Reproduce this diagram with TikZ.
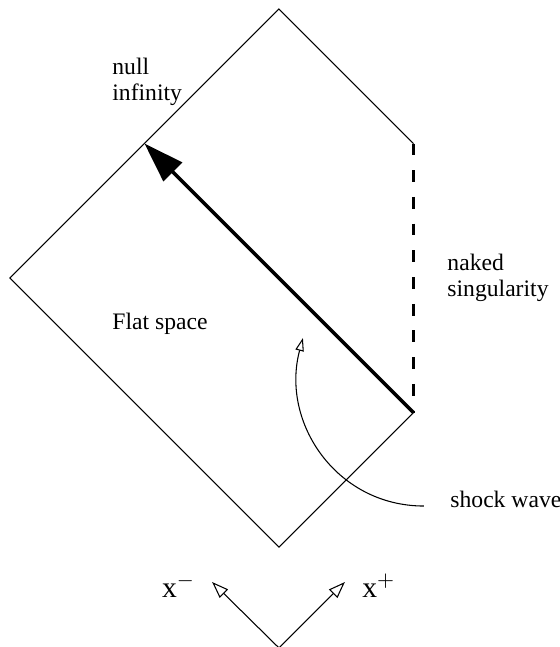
\documentclass[tikz,border=0pt]{standalone}
\usepackage{fontspec}
\setmainfont{Liberation Serif}
\usetikzlibrary{arrows.meta}

\begin{document}
\begin{tikzpicture}[x=2cm, y=2cm,
edge/.style={line width=0.45pt},
front/.style={-{Triangle[length=17pt, width=11pt]}, line width=1.5pt},
sing/.style={line width=1.3pt, dash pattern=on 5pt off 6.3pt},
hollow/.style={-{Triangle[open, length=7pt, width=5pt]}, line width=0.45pt},
pointer/.style={-{Triangle[open, length=5.5pt, width=3.6pt]}, line width=0.45pt},
lbl/.style={font=\fontsize{10}{11}\selectfont, align=left, inner sep=0pt},
axlbl/.style={font=\fontsize{12.5}{15}\selectfont, inner sep=0pt}
]
\useasboundingbox (-2.074,-0.743) rectangle (2.082,4.067);
% corners of the diagram
\coordinate (bot) at (0,0);
\coordinate (lr) at (1,1);
\coordinate (ur) at (1,3);
\coordinate (top) at (0,4);
\coordinate (lft) at (-2,2);
\coordinate (tip) at (-1,3);
\draw[edge] (ur) -- (top) -- (lft) -- (bot) -- (lr);
\draw[sing] (ur) -- (lr);
\draw[front] (lr) -- (tip);
% labels
\node[lbl, anchor=base west] (scri) at (-1.242,3.323) {null\\infinity};
\node[lbl, anchor=base west] (naked) at (1.249,1.859) {naked\\singularity};
\node[lbl, anchor=base west] (flat) at (-1.242,1.621) {Flat space};
\node[lbl, anchor=base west] (shock) at (1.271,0.297) {shock wave};
% shock wave pointer
\coordinate (swend) at (1.078,0.305);
\coordinate (swtip) at (0.178,1.554);
\draw[pointer] (swend) to[out=180, in=-105, looseness=1.08] (swtip);
% light cone directions
\coordinate (ax0) at (0,-0.75);
\coordinate (axm) at (-0.497,-0.26);
\coordinate (axp) at (0.49,-0.26);
\draw[hollow] (ax0) -- (axm);
\draw[hollow] (ax0) -- (axp);
\node[axlbl, anchor=base] (xm) at (-0.747,-0.372) {x$^{-}$};
\node[axlbl, anchor=base] (xp) at (0.743,-0.372) {x$^{+}$};
\end{tikzpicture}
\end{document}
